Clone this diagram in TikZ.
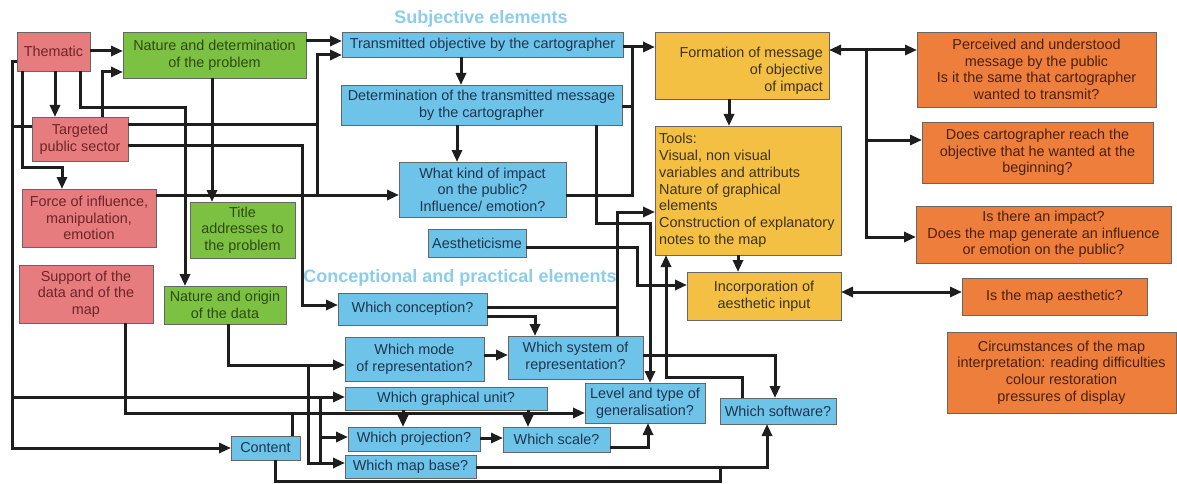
\documentclass[tikz,border=0pt]{standalone}
\usepackage{fontspec}
\setmainfont{Liberation Sans}
\usetikzlibrary{arrows.meta}
\definecolor{pinkf}{HTML}{E77C7E}
\definecolor{greenf}{HTML}{7DC143}
\definecolor{bluef}{HTML}{6EC3E8}
\definecolor{yellowf}{HTML}{F3C044}
\definecolor{orangef}{HTML}{EE7E3C}
\definecolor{pinkt}{HTML}{6E2428}
\definecolor{greent}{HTML}{2E4A14}
\definecolor{bluet}{HTML}{1E3550}
\definecolor{yellowt}{HTML}{3F3218}
\definecolor{oranget}{HTML}{4A200C}
\definecolor{headc}{HTML}{8CCDEB}
\definecolor{linec}{HTML}{1E1E1E}
\begin{document}
\begin{tikzpicture}[x=1pt,y=-1pt,
 box/.style={draw=black!60, line width=0.9pt, inner sep=0pt, outer sep=0pt, align=center, font=\fontsize{14.4}{16.6}\selectfont},
 pinkbox/.style={box, fill=pinkf, text=pinkt},
 greenbox/.style={box, fill=greenf, text=greent},
 bluebox/.style={box, fill=bluef, text=bluet},
 yellowbox/.style={box, fill=yellowf, text=yellowt},
 orangebox/.style={box, fill=orangef, text=oranget},
 plaintext/.style={inner sep=0pt, font=\fontsize{14.4}{16.8}\selectfont},
 conn/.style={line width=3pt, draw=linec},
 arr/.style={conn, -{Triangle[length=12pt,width=10pt]}},
 darr/.style={conn, {Triangle[length=12pt,width=10pt]}-{Triangle[length=12pt,width=10pt]}},
 heading/.style={inner sep=0pt, font=\fontsize{18}{20}\selectfont\bfseries, text=headc}
]
\useasboundingbox[fill=white] (0,0) rectangle (1177,484);

% headings
\node[heading] (h1) at (481,19) {Subjective elements};
\node[heading] (h2) at (460,278) {Conceptional and practical elements};

% pink
\node[pinkbox, minimum width=73pt, minimum height=39pt] (thematic) at (53.5,51.5) {Thematic};
\node[pinkbox, minimum width=96pt, minimum height=44pt] (targeted) at (80,139) {Targeted\\public sector};
\node[pinkbox, minimum width=134pt, minimum height=58pt] (force) at (89,218) {Force of influence,\\manipulation,\\emotion};
\node[pinkbox, minimum width=134pt, minimum height=58pt] (support) at (86,294) {Support of the\\data and of the\\map};

% green
\node[greenbox, minimum width=183pt, minimum height=46pt] (natdet) at (214.5,55) {Nature and determination\\of the problem};
\node[greenbox, minimum width=105pt, minimum height=56pt] (title) at (242.5,230) {Title\\addresses to\\the problem};
\node[greenbox, minimum width=122pt, minimum height=38pt] (natorig) at (225,305) {Nature and origin\\of the data};

% blue
\node[bluebox, minimum width=281pt, minimum height=25pt] (trans) at (482.5,44.5) {Transmitted objective by the cartographer};
\node[bluebox, minimum width=281pt, minimum height=40pt] (determ) at (481.5,105) {Determination of the transmitted message\\by the cartographer};
\node[bluebox, minimum width=167pt, minimum height=55pt] (whatkind) at (482.5,189.5) {What kind of impact\\on the public?\\Influence/ emotion?};
\node[bluebox, minimum width=98pt, minimum height=28pt] (aesth) at (477,243) {Aestheticisme};
\node[bluebox, minimum width=149pt, minimum height=32pt] (concep) at (412.5,309) {Which conception?};
\node[bluebox, minimum width=139pt, minimum height=44pt] (mode) at (414.5,359) {Which mode\\of representation?};
\node[bluebox, minimum width=135pt, minimum height=43pt] (system) at (575.5,357.5) {Which system of\\representation?};
\node[bluebox, minimum width=202pt, minimum height=23pt] (graph) at (446,398.5) {Which graphical unit?};
\node[bluebox, minimum width=120pt, minimum height=40pt] (level) at (645,403) {Level and type of\\generalisation?};
\node[bluebox, minimum width=116pt, minimum height=26pt] (software) at (778,411) {Which software?};
\node[bluebox, minimum width=69pt, minimum height=24pt] (content) at (265.5,448) {Content};
\node[bluebox, minimum width=132pt, minimum height=24pt] (proj) at (414,439) {Which projection?};
\node[bluebox, minimum width=107pt, minimum height=25pt] (scale) at (556.5,439.5) {Which scale?};
\node[bluebox, minimum width=131pt, minimum height=23pt] (mapbase) at (410.5,466.5) {Which map base?};

% yellow
\node[yellowbox, minimum width=174pt, minimum height=67pt] (formation) at (742,65.5) {};
\node[plaintext, text=yellowt, anchor=north east, align=right] (formtxt) at (823,47) {Formation of message\\of objective\\of impact};
\node[yellowbox, minimum width=186pt, minimum height=129pt] (tools) at (748,190.5) {};
\node[plaintext, text=yellowt, anchor=north west, align=left] (toolstxt) at (659,133) {Tools:\\Visual, non visual\\variables and attributs\\Nature of graphical\\elements\\Construction of explanatory\\notes to the map};
\node[yellowbox, minimum width=154pt, minimum height=48pt] (incorp) at (764,296) {Incorporation of\\aesthetic input};

% orange
\node[orangebox, minimum width=239pt, minimum height=75pt] (perceived) at (1036.5,69.5) {Perceived and understood\\message by the public\\Is it the same that cartographer\\wanted to transmit?};
\node[orangebox, minimum width=231pt, minimum height=61pt] (doescarto) at (1037.5,152.5) {Does cartographer reach the\\objective that he wanted at the\\beginning?};
\node[orangebox, minimum width=255pt, minimum height=57pt] (isimpact) at (1043.5,234.5) {Is there an impact?\\Does the map generate an influence\\or emotion on the public?};
\node[orangebox, minimum width=185pt, minimum height=37pt] (isaesth) at (1054.5,296.5) {Is the map aesthetic?};
\node[orangebox, minimum width=229pt, minimum height=81pt] (circ) at (1061.5,372.5) {Circumstances of the map\\interpretation: reading difficulties\\colour restoration\\pressures of display};

% junction coordinates
\coordinate (jleft) at (12,397);
\coordinate (jtp) at (317,125);
\coordinate (jmb) at (308,365);
\coordinate (jgu) at (320,397);
\coordinate (jpr) at (320,437);
\coordinate (jfo) at (866,50);
\coordinate (jfo2) at (866,140);
\coordinate (jct) at (292,413);
\coordinate (jbot) at (720,467);

% Thematic
\draw[arr] (thematic.east |- 0,51) -- (natdet.west |- 0,51);
\draw[arr] (thematic.south -| 55,0) -- (targeted.north -| 55,0);
\draw[arr] (thematic.south -| 22,0) |- (62,167) -- (force.north -| 62,0);
\draw[arr] (thematic.south -| 80,0) |- (185,108) -- (natorig.north -| 185,0);
\draw[arr] (thematic.west |- 0,62) -| (12,448) -- (content.west |- 0,448);
\draw[conn] (targeted.west |- 0,127) -- (12,127);
\draw[arr] (jleft) -- (graph.west |- jleft);

% Targeted
\draw[arr] (targeted.north -| 102,0) |- (natdet.west |- 0,72);
\draw[arr] (targeted.east |- jtp) -| (317,55) -- (trans.west |- 0,55);
\draw[conn] (jtp) -- (317,195);
\draw[arr] (targeted.east |- 0,145) -| (302,305) -- (concep.west |- 0,305);

% Force
\draw[arr] (force.east |- 0,195) -- (whatkind.west |- 0,195);

% nature and determination
\draw[arr] (natdet.east |- 0,41) -- (trans.west |- 0,41);
\draw[arr] (natdet.south -| 212,0) -- (title.north -| 212,0);

% subjective chain
\draw[arr] (trans.south -| 461,0) -- (determ.north -| 461,0);
\draw[arr] (determ.south -| 457,0) -- (whatkind.north -| 457,0);
\draw[arr] (trans.east |- 0,47) -- (formation.west |- 0,47);
\draw[conn] (determ.east |- 0,107) -| (632,47);
\draw[conn] (whatkind.east |- 0,195) -| (632,107);
\draw[arr] (determ.south -| 596,0) |- (650,223) -- (level.north -| 650,0);

% formation
\draw[arr] (formation.south -| 729,0) -- (tools.north -| 729,0);
\draw[darr] (formation.east |- jfo) -- (perceived.west |- jfo);
\draw[arr] (jfo) |- (doescarto.west |- jfo2);
\draw[arr] (jfo2) |- (isimpact.west |- 0,237);

% tools, incorporation
\draw[arr] (tools.south -| 738,0) -- (incorp.north -| 738,0);
\draw[darr] (incorp.east |- 0,292) -- (isaesth.west |- 0,292);
\draw[arr] (aesth.east |- 0,247) -| (637,285) -- (incorp.west |- 0,285);

% conception / system
\draw[arr] (concep.east |- 0,316) -| (system.north -| 535,0);
\draw[conn] (concep.east |- 0,307) -- (617,307);
\draw[arr] (system.north -| 617,0) |- (tools.west |- 0,212);
\draw[arr] (mode.east |- 0,355) -- (system.west |- 0,355);
\draw[arr] (system.east |- 0,355) -| (software.north -| 775,0);
\draw[arr] (software.north -| 742,0) |- (666,377) -- (tools.south -| 666,0);

% nature and origin
\draw[arr] (natorig.south -| 228,0) |- (mode.west |- jmb);
\draw[arr] (jmb) |- (mapbase.west |- 0,463);
\draw[conn] (jgu) -- (320,463);
\draw[arr] (jpr) -- (proj.west |- jpr);

% lower chain
\draw[arr] (graph.south -| 403,0) -- (proj.north -| 403,0);
\draw[arr] (graph.south -| 528,0) -- (scale.north -| 528,0);
\draw[arr] (proj.east |- 0,438) -- (scale.west |- 0,438);
\draw[arr] (scale.east |- 0,447) -| (level.south -| 648,0);
\draw[arr] (support.south -| 125,0) |- (level.west |- 0,413);
\draw[conn] (content.north -| 292,0) -- (jct);
\draw[arr] (mapbase.east |- jbot) -| (software.south -| 767,0);
\draw[conn] (content.south -| 275,0) |- (720,481) -- (jbot);
\end{tikzpicture}
\end{document}
